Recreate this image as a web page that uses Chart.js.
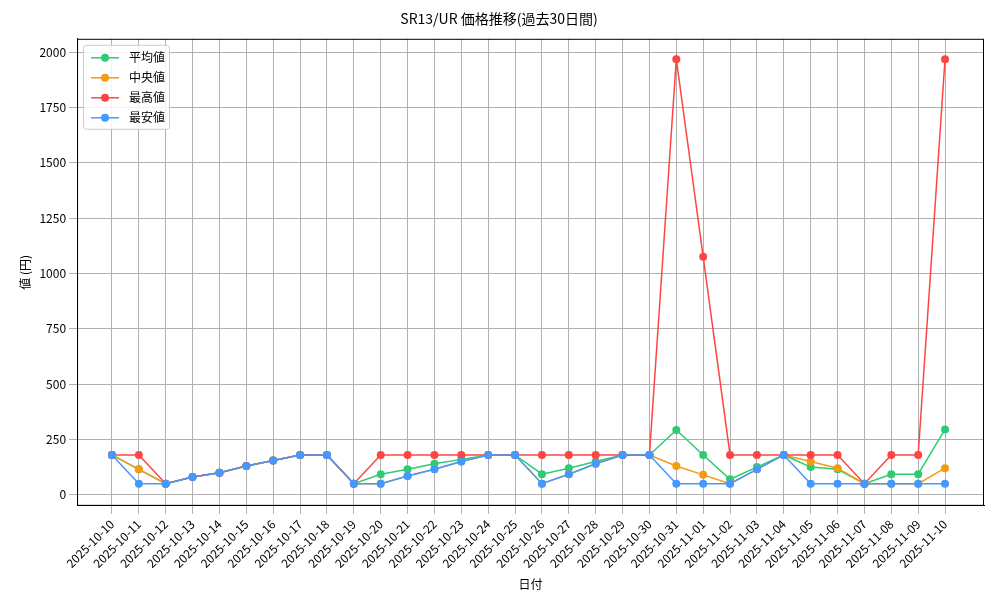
<!DOCTYPE html>
<html><head><meta charset="utf-8">
<script src="https://cdn.jsdelivr.net/npm/chart.js@4"></script>
<style>body{margin:0;background:#fff}#w{width:1000px;height:600px}</style>
</head><body><div id="w"><canvas id="c"></canvas></div>
<script>
const labels = ["2025-10-10","2025-10-11","2025-10-12","2025-10-13","2025-10-14","2025-10-15","2025-10-16","2025-10-17","2025-10-18","2025-10-19","2025-10-20","2025-10-21","2025-10-22","2025-10-23","2025-10-24","2025-10-25","2025-10-26","2025-10-27","2025-10-28","2025-10-29","2025-10-30","2025-10-31","2025-11-01","2025-11-02","2025-11-03","2025-11-04","2025-11-05","2025-11-06","2025-11-07","2025-11-08","2025-11-09","2025-11-10"];
const avgVals = [180,115,50,80,100,130,155,180,180,50,93,115,140,160,180,180,93,120,150,180,180,293,180,70,125,180,125,115,50,93,93,295];
const medVals = [180,115,50,80,100,130,155,180,180,50,50,85,115,150,180,180,50,93,140,180,180,130,90,50,115,180,150,120,50,50,50,120];
const maxVals = [180,180,50,80,100,130,155,180,180,50,180,180,180,180,180,180,180,180,180,180,180,1968,1075,180,180,180,180,180,50,180,180,1968];
const minVals = [180,50,50,80,100,130,155,180,180,50,50,85,115,150,180,180,50,93,140,180,180,50,50,50,115,180,50,50,50,50,50,50];
const F = "'Noto Sans CJK JP', 'DejaVu Sans', sans-serif";
function ds(label, vals, color, order){return {label,data:vals.map((y,i)=>({x:i,y})),order,borderColor:color,backgroundColor:color,pointRadius:4,pointHoverRadius:4,pointBorderWidth:0,borderWidth:1.5,tension:0};}
const legendPlugin={id:'lg',afterDraw(ch){
  const ctx=ch.ctx,a=ch.chartArea;
  ctx.save();ctx.strokeStyle='#000';ctx.lineWidth=1;ctx.strokeRect(a.left+0.5,a.top+0.5,a.right-a.left-1,a.bottom-a.top-1);
  const x=a.left+6,y=a.top+6,w=86,h=84;
  ctx.fillStyle='rgba(255,255,255,0.85)';ctx.strokeStyle='#ccc';
  ctx.beginPath();ctx.roundRect(x+0.5,y+0.5,w,h,3);ctx.fill();ctx.stroke();
  ch.data.datasets.forEach((d,i)=>{const yy=y+13+i*20;ctx.strokeStyle=d.borderColor;ctx.lineWidth=1.5;
   ctx.beginPath();ctx.moveTo(x+8,yy);ctx.lineTo(x+36,yy);ctx.stroke();
   ctx.fillStyle=d.borderColor;ctx.beginPath();ctx.arc(x+22,yy,4,0,Math.PI*2);ctx.fill();
   ctx.fillStyle='#000';ctx.font='12px '+F;ctx.textBaseline='middle';ctx.fillText(d.label,x+46,yy);});
  ctx.restore();}};
new Chart(document.getElementById('c'),{
 type:'line',
 data:{datasets:[ds('平均値',avgVals,'#2ecc71',4),ds('中央値',medVals,'#f39c12',3),ds('最高値',maxVals,'#ff4444',2),ds('最安値',minVals,'#4499ff',1)]},
 plugins:[legendPlugin],
 options:{responsive:true,maintainAspectRatio:false,animation:false,
  layout:{padding:{left:14,right:16,top:4,bottom:4}},
  plugins:{title:{display:true,text:'SR13/UR 価格推移(過去30日間)',color:'#000',font:{family:F,size:14,weight:'normal'},padding:{top:6,bottom:12}},
   legend:{display:false},tooltip:{enabled:false}},
  scales:{
   x:{type:'linear',min:-1.3,max:32.45,afterBuildTicks:a=>{a.ticks=labels.map((l,i)=>({value:i}));},grid:{color:'#b0b0b0'},border:{color:'#000'},ticks:{color:'#000',maxRotation:45,minRotation:45,autoSkip:false,callback:v=>labels[v],font:{family:F,size:12}},title:{display:true,text:'日付',color:'#000',font:{family:F,size:12}}},
   y:{min:-50,max:2060,afterBuildTicks:a=>{a.ticks=[0,250,500,750,1000,1250,1500,1750,2000].map(v=>({value:v}));},grid:{color:'#b0b0b0'},border:{color:'#000'},ticks:{color:'#000',callback:v=>String(v),font:{family:F,size:12}},title:{display:true,text:'値 (円)',color:'#000',font:{family:F,size:12}}}
  }}
});
</script></body></html>
